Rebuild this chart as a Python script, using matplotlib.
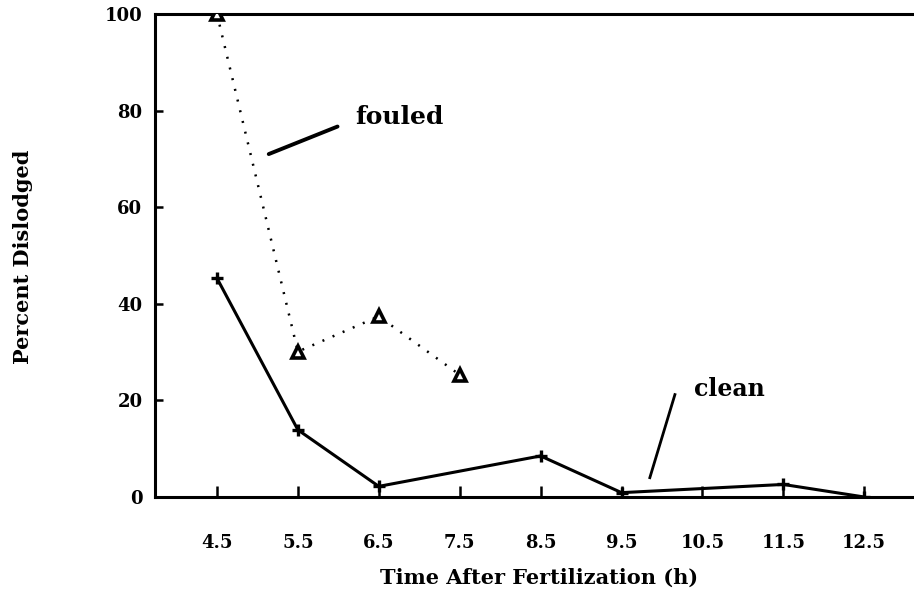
import matplotlib
matplotlib.use("Agg")
import matplotlib.pyplot as plt

# Data
x_ticks = [4.5, 5.5, 6.5, 7.5, 8.5, 9.5, 10.5, 11.5, 12.5]
x_tick_labels = ["4.5", "5.5", "6.5", "7.5", "8.5", "9.5", "10.5", "11.5", "12.5"]
y_ticks = [0, 20, 40, 60, 80, 100]

clean_x = [4.5, 5.5, 6.5, 8.5, 9.5, 11.5, 12.5]
clean_y = [45.3, 13.9, 2.2, 8.5, 0.9, 2.6, 0.0]

fouled_x = [4.5, 5.5, 6.5, 7.5]
fouled_y = [100.0, 30.1, 37.4, 25.3]

FONT = "DejaVu Serif"

fig = plt.figure(figsize=(9.14, 5.99), dpi=100)
ax = fig.add_axes([155/914, 1 - 497/599, 1 - 155/914, (497 - 14)/599])

ax.plot(clean_x, clean_y, color="black", lw=2.2, marker="+", ms=9, mew=2.4, zorder=3)
ax.plot(fouled_x, fouled_y, color="black", lw=1.8, linestyle=(0, (0.8, 3.6)),
        marker="^", ms=9, mfc="white", mec="black", mew=2.6, zorder=3)

ax.set_xlim(3.734, 13.115)
ax.set_ylim(0, 100)
ax.set_xticks(x_ticks)
ax.set_xticklabels(x_tick_labels)
ax.set_yticks(y_ticks)

for s in ["top", "left", "bottom"]:
    ax.spines[s].set_linewidth(2.2)
ax.spines["right"].set_visible(False)

ax.tick_params(axis="x", direction="in", length=8, width=1.8, pad=27,
               labelsize=13)
ax.tick_params(axis="y", direction="in", length=6, width=1.8, pad=9,
               labelsize=13)
for lab in ax.get_xticklabels() + ax.get_yticklabels():
    lab.set_fontweight("bold")
    lab.set_family(FONT)

ax.set_xlabel("Time After Fertilization (h)", fontsize=15, fontweight="bold",
              family=FONT)
ax.xaxis.set_label_coords(0.506, -0.168)
ax.xaxis.label.set_va("center")
ax.set_ylabel("Percent Dislodged", fontsize=15, fontweight="bold", family=FONT)
ax.yaxis.set_label_coords(-0.174, 0.497)
ax.yaxis.label.set_va("center")

# annotations
ax.plot([5.14, 5.99], [71.0, 76.7], color="black", lw=2.8, solid_capstyle="round")
ax.text(6.21, 78.6, "fouled", fontsize=18, fontweight="bold",
        family=FONT, va="center", ha="left")
ax.plot([10.16, 9.85], [21.2, 4.0], color="black", lw=2.0)
ax.text(10.39, 22.4, "clean", fontsize=17, fontweight="bold",
        family=FONT, va="center", ha="left")

fig.savefig("out.png", dpi=100)
